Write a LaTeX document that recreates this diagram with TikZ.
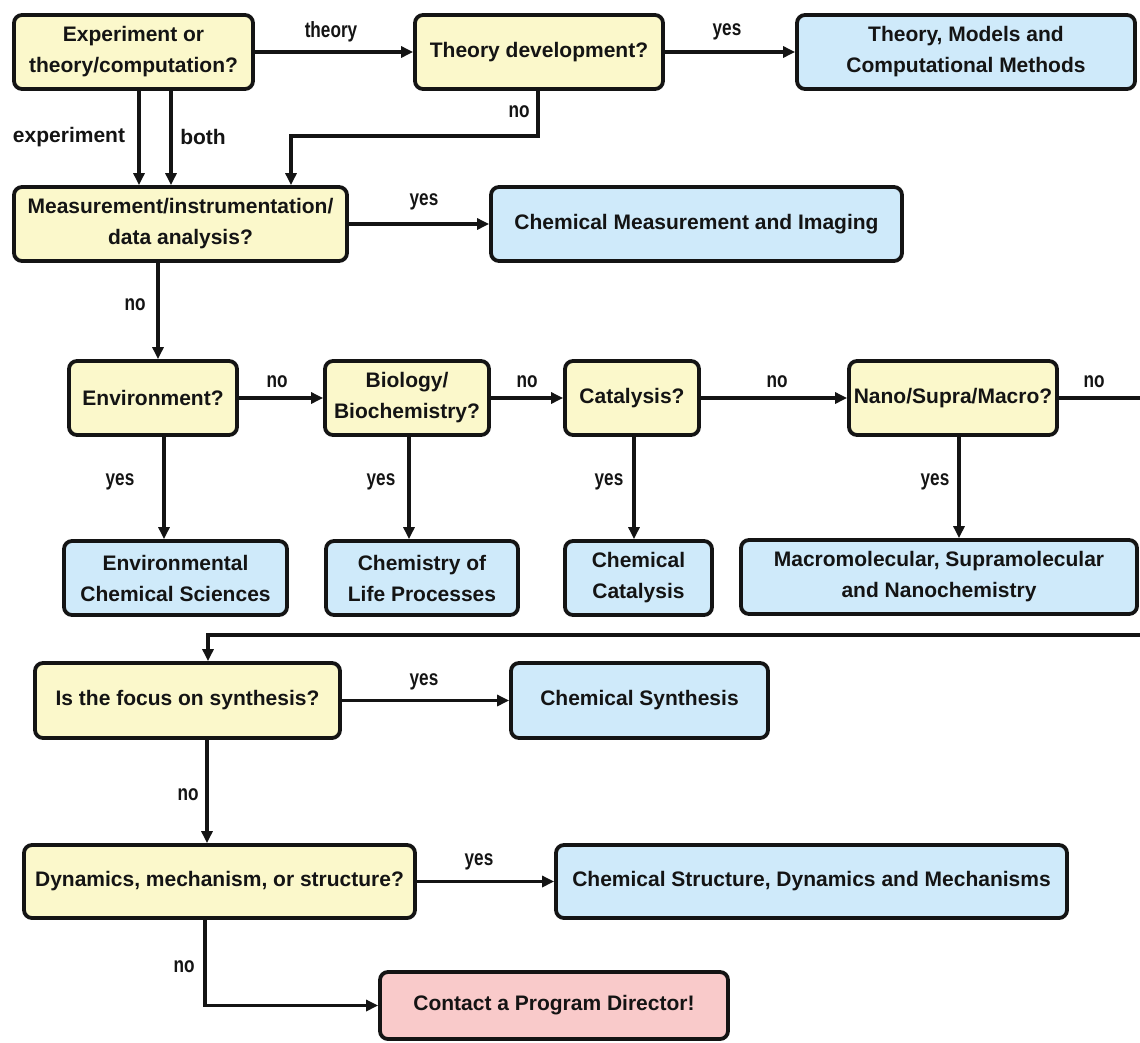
\documentclass[tikz,border=0pt]{standalone}
\usepackage{fontspec}
\setmainfont{Liberation Sans}
\newfontfamily\lblfont{Liberation Sans}[FakeStretch=0.78]
\usetikzlibrary{arrows.meta}
\definecolor{qfill}{HTML}{FBF8CB}
\definecolor{rfill}{HTML}{CFEAFA}
\definecolor{pfill}{HTML}{F9CACA}
\definecolor{ink}{HTML}{141414}
\begin{document}
\begin{tikzpicture}[x=1pt,y=-1pt,
 box/.style={draw=ink, line width=3.8pt, rounded corners=8pt, inner sep=0pt, align=center, text=ink, font=\fontsize{21}{31}\selectfont\bfseries},
 qbox/.style={box, fill=qfill},
 rbox/.style={box, fill=rfill},
 pbox/.style={box, fill=pfill},
 arr/.style={draw=ink, line width=3.4pt, -{Triangle[length=12pt,width=11pt]}},
 lbl/.style={text=ink, font=\lblfont\fontsize{22}{22}\selectfont\bfseries, inner sep=0pt},
 blbl/.style={text=ink, font=\fontsize{21}{21}\selectfont\bfseries, inner sep=0pt}]
\useasboundingbox (0,0) rectangle (1140,1042);
\fill[white] (0,0) rectangle (1140,1042);
\clip (0,0) rectangle (1140,1042);

% row 1
\node[qbox, minimum width=239pt, minimum height=74pt] (exp) at (133.5,52) {Experiment or\\theory/computation?};
\node[qbox, minimum width=248pt, minimum height=74pt] (thdev) at (539,52) {Theory development?};
\node[rbox, minimum width=338pt, minimum height=74pt] (models) at (966,52) {Theory, Models and\\Computational Methods};
% row 2
\node[qbox, minimum width=333pt, minimum height=74pt] (meas) at (180.5,224) {Measurement/instrumentation/\\data analysis?};
\node[rbox, minimum width=411pt, minimum height=74pt] (chmeas) at (696.5,224) {Chemical Measurement and Imaging};
% row 3
\node[qbox, minimum width=168pt, minimum height=74pt] (env) at (153,398) {Environment?};
\node[qbox, minimum width=164pt, minimum height=74pt] (bio) at (407,398) {Biology/\\Biochemistry?};
\node[qbox, minimum width=134pt, minimum height=74pt] (cat) at (632,398) {Catalysis?};
\node[qbox, minimum width=208pt, minimum height=74pt] (nano) at (953,398) {Nano/Supra/Macro?};
% row 4
\node[rbox, minimum width=223pt, minimum height=74pt] (envres) at (175.5,578) {Environmental\\Chemical Sciences};
\node[rbox, minimum width=192pt, minimum height=74pt] (life) at (422,578) {Chemistry of\\Life Processes};
\node[rbox, minimum width=147pt, minimum height=74pt] (chcat) at (638.5,578) {Chemical\\Catalysis};
\node[rbox, minimum width=396pt, minimum height=74pt] (macro) at (939,577) {Macromolecular, Supramolecular\\and Nanochemistry};
% row 5
\node[qbox, minimum width=305pt, minimum height=75pt] (synq) at (187.5,700.5) {Is the focus on synthesis?};
\node[rbox, minimum width=257pt, minimum height=75pt] (chsyn) at (639.5,700.5) {Chemical Synthesis};
% row 6
\node[qbox, minimum width=391pt, minimum height=73pt] (dyn) at (219.5,881.5) {Dynamics, mechanism, or structure?};
\node[rbox, minimum width=511pt, minimum height=73pt] (chstr) at (811.5,881.5) {Chemical Structure, Dynamics and Mechanisms};
% row 7
\node[pbox, minimum width=348pt, minimum height=67pt] (contact) at (554,1005.5) {Contact a Program Director!};

% helper coordinates
\coordinate (cx1) at (139,0);
\coordinate (cx2) at (171,0);
\coordinate (tnA) at (538,136);
\coordinate (tnB) at (291,136);
\coordinate (mx) at (158,0);
\coordinate (ex) at (164,0);
\coordinate (bx) at (409,0);
\coordinate (kx) at (634,0);
\coordinate (nx) at (959,0);
\coordinate (r1) at (1150,398);
\coordinate (r2) at (1150,635);
\coordinate (r3) at (208,635);
\coordinate (sx) at (207,0);
\coordinate (dx) at (205,1005.5);

% connectors
\draw[arr] (exp.east) -- (thdev.west);
\draw[arr] (thdev.east) -- (models.west);
\draw[arr] (exp.south -| cx1) -- (meas.north -| cx1);
\draw[arr] (exp.south -| cx2) -- (meas.north -| cx2);
\draw[arr] (thdev.south -| tnA) -- (tnA) -- (tnB) -- (meas.north -| tnB);
\draw[arr] (meas.east) -- (chmeas.west);
\draw[arr] (meas.south -| mx) -- (env.north -| mx);
\draw[arr] (env.east) -- (bio.west);
\draw[arr] (bio.east) -- (cat.west);
\draw[arr] (cat.east) -- (nano.west);
\draw[arr] (env.south -| ex) -- (envres.north -| ex);
\draw[arr] (bio.south -| bx) -- (life.north -| bx);
\draw[arr] (cat.south -| kx) -- (chcat.north -| kx);
\draw[arr] (nano.south -| nx) -- (macro.north -| nx);
\draw[arr] (nano.east) -- (r1) -- (r2) -- (r3) -- (synq.north -| r3);
\draw[arr] (synq.east) -- (chsyn.west);
\draw[arr] (synq.south -| sx) -- (dyn.north -| sx);
\draw[arr] (dyn.east) -- (chstr.west);
\draw[arr] (dyn.south -| dx) -- (dx) -- (contact.west);

% labels
\node[lbl] (l1) at (331,32) {theory};
\node[lbl] (l2) at (727,32) {yes};
\node[blbl] (l3) at (69,137) {experiment};
\node[blbl] (l4) at (203,137) {both};
\node[lbl] (l5) at (519,112) {no};
\node[lbl] (l6) at (424,202) {yes};
\node[lbl] (l7) at (135,305) {no};
\node[lbl] (l8) at (277,382) {no};
\node[lbl] (l9) at (527,382) {no};
\node[lbl] (l10) at (777,382) {no};
\node[lbl] (l11) at (1094,382) {no};
\node[lbl] (l12) at (120,482) {yes};
\node[lbl] (l13) at (381,482) {yes};
\node[lbl] (l14) at (609,482) {yes};
\node[lbl] (l15) at (935,482) {yes};
\node[lbl] (l16) at (424,682) {yes};
\node[lbl] (l17) at (188,795) {no};
\node[lbl] (l18) at (479,862) {yes};
\node[lbl] (l19) at (184,967) {no};
\end{tikzpicture}
\end{document}
